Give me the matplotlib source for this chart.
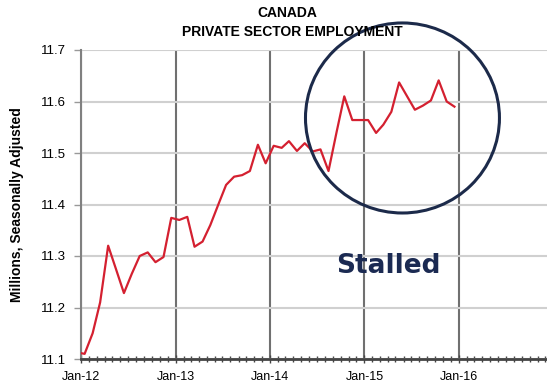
import datetime as dt

import matplotlib
matplotlib.use("Agg")
import matplotlib.pyplot as plt
import matplotlib.dates as mdates
from matplotlib.patches import Ellipse

# Private sector employment, millions, seasonally adjusted (monthly)
start_year = 2012
employment = [
    11.113,  # Dec-11
    11.110, 11.150, 11.210, 11.320, 11.275, 11.228, 11.265, 11.300, 11.307, 11.288, 11.298, 11.374,
    11.370, 11.376, 11.318, 11.328, 11.360, 11.400, 11.438, 11.454, 11.457, 11.465, 11.516, 11.480,
    11.514, 11.510, 11.523, 11.504, 11.519, 11.503, 11.507, 11.465, 11.540, 11.610, 11.564, 11.564,
    11.564, 11.539, 11.555, 11.580, 11.637, 11.610, 11.584, 11.592, 11.602, 11.641, 11.600, 11.590,
]
label_years = [2012, 2013, 2014, 2015, 2016]
y_ticks = [11.1, 11.2, 11.3, 11.4, 11.5, 11.6, 11.7]
note_text = "Stalled"


def month_dates(n):
    # mid-month dates starting at Dec of the year before start_year
    dates = []
    y, m = start_year - 1, 12
    for _ in range(n):
        dates.append(dt.date(y, m, 15))
        m += 1
        if m > 12:
            m = 1
            y += 1
    return dates


def main():
    plt.rcParams['font.family'] = ['Liberation Sans', 'DejaVu Sans']

    fig = plt.figure(figsize=(5.47, 3.89), dpi=100)
    ax = fig.add_axes([81 / 547, 30 / 389, (553.5 - 81) / 547, 309 / 389])

    dates = month_dates(len(employment))
    ax.plot(dates, employment, color='#d42030', lw=1.6, zorder=3)

    ax.set_xlim(dt.date(2012, 1, 1), dt.date(2017, 1, 1))
    ax.set_ylim(11.1, 11.7)
    ax.set_yticks(y_ticks)
    ax.set_yticklabels([f"{v:.1f}" for v in y_ticks], fontsize=9.5)

    year_starts = [dt.date(y, 1, 1) for y in label_years]
    ax.set_xticks(year_starts)
    ax.set_xticklabels([d.strftime('%b-%y') for d in year_starts], fontsize=9)
    ax.xaxis.set_minor_locator(mdates.MonthLocator())

    # grid: light horizontals, darker year verticals
    ax.grid(axis='y', color='#d0d0d0', lw=1.5, zorder=0)
    ax.grid(axis='x', which='major', color='#707070', lw=1.5, zorder=1)

    ax.tick_params(axis='x', which='major', direction='inout', length=6,
                   width=1, color='#444444', pad=6)
    ax.tick_params(axis='x', which='minor', direction='inout', length=5,
                   width=1, color='#444444')
    ax.tick_params(axis='y', direction='out', length=5, width=1,
                   color='#999999', pad=6)

    for side in ('top', 'right'):
        ax.spines[side].set_visible(False)
    ax.spines['left'].set_color('#808080')
    ax.spines['left'].set_linewidth(1.5)
    ax.spines['bottom'].set_color('#444444')
    ax.spines['bottom'].set_linewidth(2)

    ax.set_ylabel("Millions, Seasonally Adjusted", fontsize=10,
                  fontweight='bold', labelpad=12)

    fig.text(0.525, 0.966, "CANADA", ha='center', va='center',
             fontsize=10, fontweight='bold')
    fig.text(0.535, 0.918, "PRIVATE SECTOR EMPLOYMENT", ha='center',
             va='center', fontsize=10, fontweight='bold')

    # highlight circle around the flat stretch
    circle = Ellipse((mdates.date2num(dt.date(2015, 5, 28)), 11.568),
                     width=750, height=0.369, fill=False,
                     edgecolor='#1c2a4a', lw=2.2, clip_on=False, zorder=4)
    ax.add_patch(circle)

    ax.text(mdates.date2num(dt.date(2015, 4, 4)), 11.28, note_text,
            ha='center', va='center', fontsize=19, fontweight='bold',
            color='#1b2a52', family=['DejaVu Sans'])

    fig.savefig("out.png", dpi=100)
    plt.close(fig)


if __name__ == "__main__":
    main()
